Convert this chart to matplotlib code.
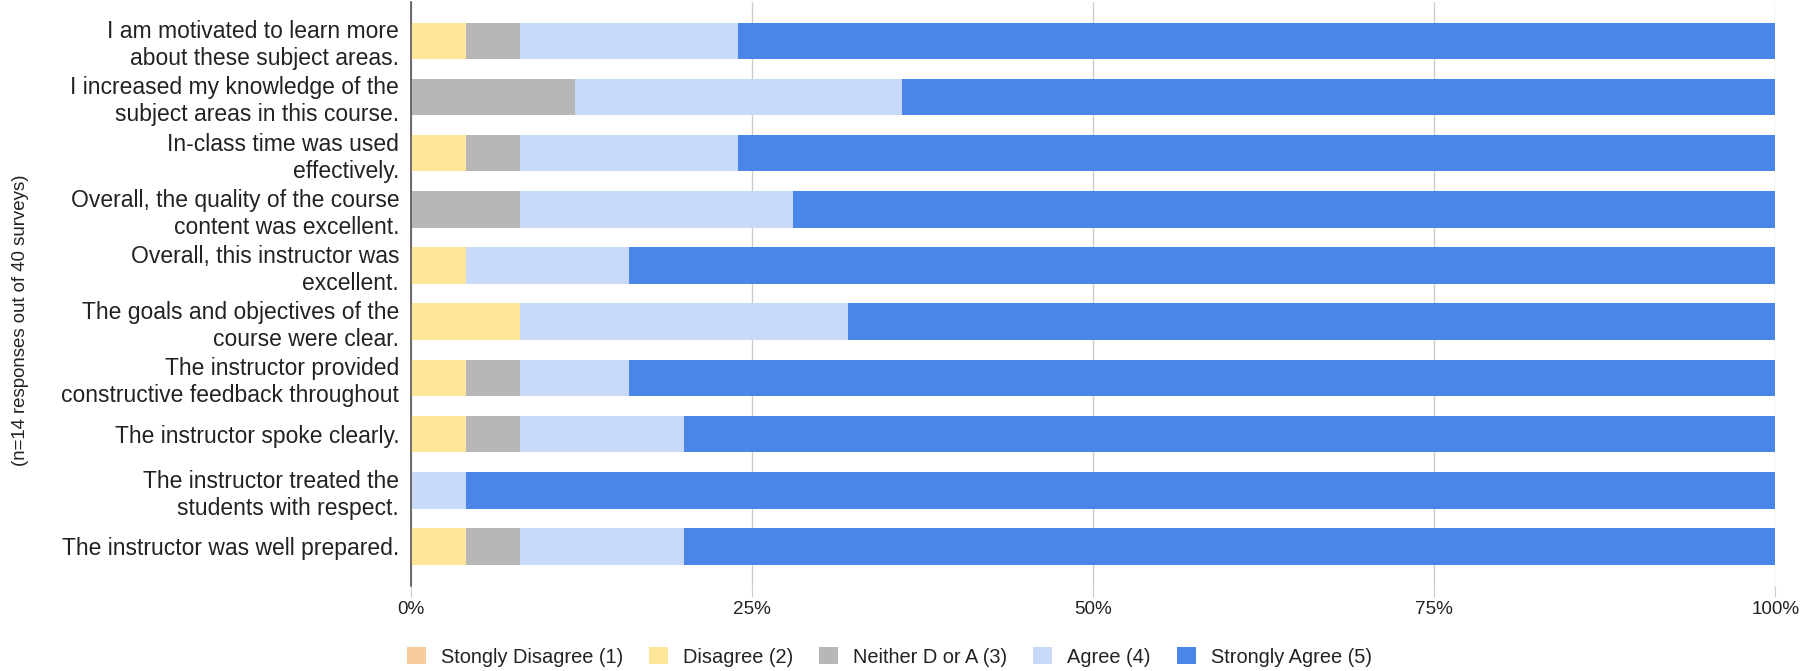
import numpy as np
import matplotlib.pyplot as plt
from matplotlib.ticker import FuncFormatter

plt.rcParams["font.family"] = ["Liberation Sans", "DejaVu Sans"]

# pytania (od góry do dołu)
questions = [
    "I am motivated to learn more\nabout these subject areas.",
    "I increased my knowledge of the\nsubject areas in this course.",
    "In-class time was used\neffectively.",
    "Overall, the quality of the course\ncontent was excellent.",
    "Overall, this instructor was\nexcellent.",
    "The goals and objectives of the\ncourse were clear.",
    "The instructor provided\nconstructive feedback throughout",
    "The instructor spoke clearly.",
    "The instructor treated the\nstudents with respect.",
    "The instructor was well prepared.",
]
series_names = ["Stongly Disagree (1)", "Disagree (2)", "Neither D or A (3)",
                "Agree (4)", "Strongly Agree (5)"]
strongly_disagree = [0, 0, 0, 0, 0, 0, 0, 0, 0, 0]
disagree = [4, 0, 4, 0, 4, 8, 4, 4, 0, 4]
neither = [4, 12, 4, 8, 0, 0, 4, 4, 0, 4]
agree = [16, 24, 16, 20, 12, 24, 8, 12, 4, 12]
strongly_agree = [76, 64, 76, 72, 84, 68, 84, 80, 96, 80]
colors = ["#f9cb9c", "#ffe599", "#b7b7b7", "#c9daf8", "#4a86e8"]

fig = plt.figure(figsize=(18.04, 6.71), dpi=100)
ax = fig.add_axes([0.2278, 0.127, 0.7564, 0.870])

y = np.arange(len(questions))
left = np.zeros(len(questions))
for name, vals, c in zip(series_names,
                         [strongly_disagree, disagree, neither, agree, strongly_agree],
                         colors):
    vals = np.array(vals, dtype=float)
    ax.barh(y, vals, left=left, height=0.65, color=c, label=name, zorder=3)
    left += vals

ax.set_xlim(0, 100)
ax.set_ylim(9.70, -0.69)
ax.set_yticks(y)
ax.set_yticklabels(questions, fontsize=16.5, color="#222222", linespacing=1.22)
ax.set_xticks([0, 25, 50, 75, 100])
ax.xaxis.set_major_formatter(FuncFormatter(lambda v, p: f"{v:.0f}%"))
ax.tick_params(axis="x", length=8, color="#cccccc", labelsize=13.6, pad=3, labelcolor="#222222")
ax.tick_params(axis="y", length=0, pad=8.5)
ax.grid(axis="x", color="#cccccc", linewidth=1, zorder=0)
for s in ["top", "right", "bottom"]:
    ax.spines[s].set_visible(False)
ax.spines["left"].set_color("#555555")
ax.spines["left"].set_linewidth(1.2)
ax.spines["left"].set_zorder(4)

fig.text(0.0115, 0.523, "(n=14 responses out of 40 surveys)", rotation=90,
         ha="center", va="center", fontsize=13.4, color="#222222")

fig.legend(loc="center", bbox_to_anchor=(0.493, 0.021), ncol=5, frameon=False,
           fontsize=14.4, handlelength=0.95, handleheight=0.9, columnspacing=1.3,
           handletextpad=0.75, labelcolor="#222222")

fig.savefig("out.png", dpi=100)
